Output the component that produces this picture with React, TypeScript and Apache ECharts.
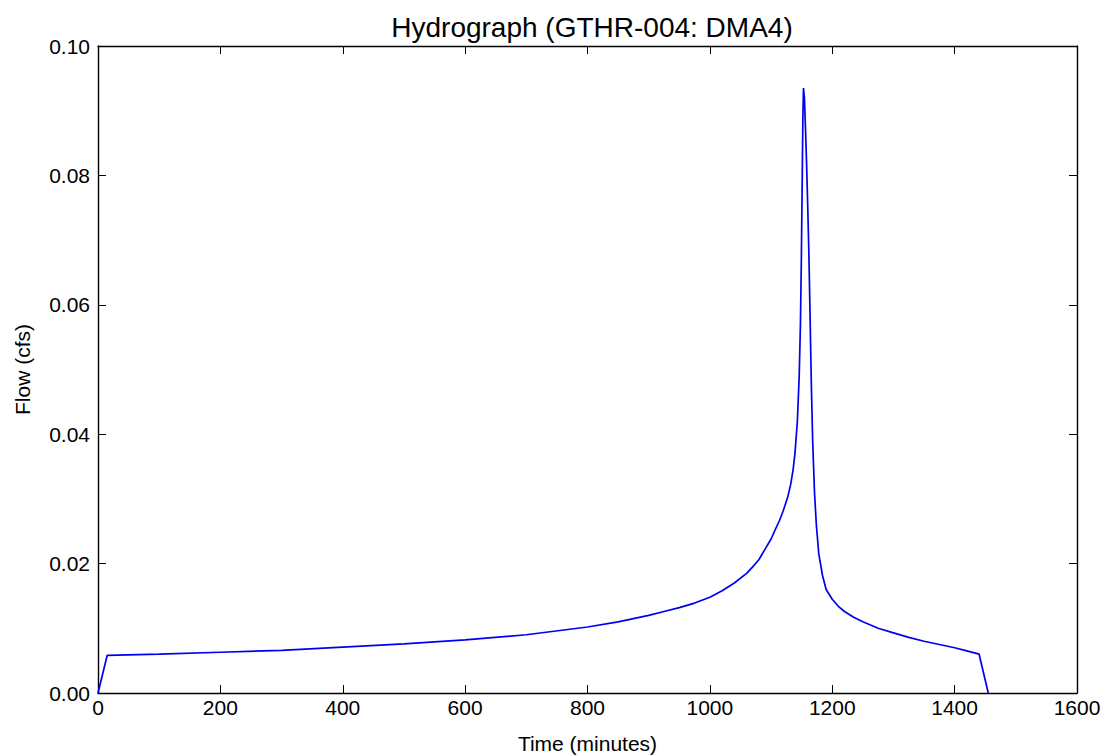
import React, { useEffect, useRef } from "react";
import * as echarts from "echarts";

const TIMES = [0, 15, 100, 200, 300, 400, 500, 600, 700, 800, 850, 900, 925, 950, 975, 1000, 1020, 1040, 1060, 1070, 1080, 1090, 1100, 1108, 1114, 1120, 1127, 1132, 1136, 1139, 1143, 1146, 1148, 1149.5, 1151, 1152, 1153, 1154.5, 1156, 1158, 1160, 1162, 1164, 1166, 1168, 1171, 1174, 1178, 1184, 1190, 1200, 1210, 1220, 1235, 1250, 1275, 1300, 1325, 1350, 1375, 1400, 1420, 1440, 1455];
const FLOWS = [0, 0.0058, 0.006, 0.0063, 0.0066, 0.0071, 0.0076, 0.0082, 0.009, 0.0102, 0.011, 0.012, 0.0126, 0.0132, 0.0139, 0.0148, 0.0158, 0.017, 0.0185, 0.0195, 0.0206, 0.0222, 0.0238, 0.0255, 0.0267, 0.0282, 0.0302, 0.0322, 0.0345, 0.037, 0.042, 0.049, 0.057, 0.067, 0.08, 0.089, 0.0935, 0.092, 0.088, 0.082, 0.075, 0.067, 0.057, 0.047, 0.039, 0.031, 0.026, 0.0215, 0.0182, 0.016, 0.0145, 0.0134, 0.0126, 0.0117, 0.011, 0.01, 0.0093, 0.0086, 0.008, 0.0075, 0.007, 0.0065, 0.006, 0];
const X_TICKS = [0, 200, 400, 600, 800, 1000, 1200, 1400, 1600];
const Y_TICKS = [0, 0.02, 0.04, 0.06, 0.08, 0.1];

export default function App() {
  const ref = useRef<HTMLDivElement>(null);
  useEffect(() => {
    document.body.style.margin = "0";
    const chart = echarts.init(ref.current!, undefined, { renderer: "svg" });
    const font = "Liberation Sans, Arial, sans-serif";
    const axisLine = { show: true, onZero: false, lineStyle: { color: "#000", width: 1.4 } };
    const tick = { show: true, inside: true, length: 8, lineStyle: { color: "#000", width: 1 } };
    chart.setOption({
      animation: false,
      backgroundColor: "#fff",
      title: {
        text: "Hydrograph (GTHR-004: DMA4)",
        left: 587,
        textAlign: "center",
        top: 8,
        textStyle: { fontFamily: font, fontSize: 28, fontWeight: "normal", color: "#000" },
      },
      grid: { left: 98, right: 29, top: 46, bottom: 63, outerBoundsMode: "none" },
      xAxis: [
        {
          type: "value",
          min: X_TICKS[0],
          max: X_TICKS[X_TICKS.length - 1],
          interval: 200,
          name: "Time (minutes)",
          nameLocation: "middle",
          nameGap: 40,
          nameTextStyle: { fontFamily: font, fontSize: 21, color: "#000" },
          axisLine,
          axisTick: tick,
          splitLine: { show: false },
          axisLabel: { fontFamily: font, fontSize: 21, color: "#000", margin: 4, formatter: (v: number) => String(v) },
        },
        {
          type: "value",
          position: "top",
          min: X_TICKS[0],
          max: X_TICKS[X_TICKS.length - 1],
          interval: 200,
          axisLine,
          axisTick: tick,
          splitLine: { show: false },
          axisLabel: { show: false },
        },
      ],
      yAxis: [
        {
          type: "value",
          min: Y_TICKS[0],
          max: Y_TICKS[Y_TICKS.length - 1],
          interval: 0.02,
          name: "Flow (cfs)",
          nameLocation: "middle",
          nameGap: 65,
          nameTextStyle: { fontFamily: font, fontSize: 21, color: "#000" },
          axisLine,
          axisTick: tick,
          splitLine: { show: false },
          axisLabel: {
            fontFamily: font,
            fontSize: 21,
            color: "#000",
            margin: 8,
            formatter: (v: number) => v.toFixed(2),
          },
        },
        {
          type: "value",
          position: "right",
          min: Y_TICKS[0],
          max: Y_TICKS[Y_TICKS.length - 1],
          interval: 0.02,
          axisLine,
          axisTick: tick,
          splitLine: { show: false },
          axisLabel: { show: false },
        },
      ],
      series: [
        {
          type: "line",
          data: TIMES.map((t, i) => [t, FLOWS[i]]),
          showSymbol: false,
          smooth: false,
          lineStyle: { color: "#0000ee", width: 1.7 },
          clip: false,
        },
      ],
    });
    return () => chart.dispose();
  }, []);
  return <div ref={ref} style={{ width: 1106, height: 756 }} />;
}
